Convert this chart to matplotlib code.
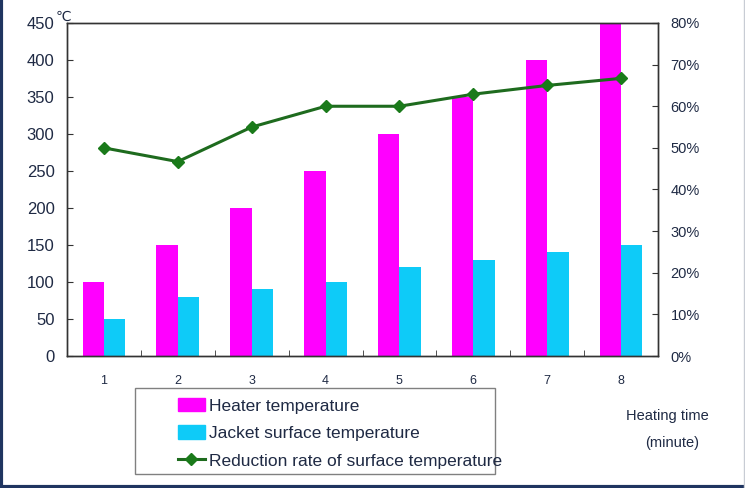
import matplotlib
matplotlib.use('Agg')
import matplotlib.pyplot as plt
import numpy as np
from matplotlib.patches import Rectangle, Patch
from matplotlib.lines import Line2D
from matplotlib.ticker import FuncFormatter, MultipleLocator

plt.rcParams['font.family'] = ['Liberation Sans', 'DejaVu Sans']

# data
minutes = ['1', '2', '3', '4', '5', '6', '7', '8']
heater = [100, 150, 200, 250, 300, 350, 400, 450]
jacket = [50, 80, 90, 100, 120, 130, 140, 150]
reduction = [50.0, 46.7, 55.0, 60.0, 60.0, 62.9, 65.0, 66.7]   # %

c_heater = '#FF00FF'
c_jacket = '#0ECBF8'
c_line = '#1E6B1E'
c_text = '#1F2A44'

fig = plt.figure(figsize=(7.45, 4.88), dpi=100)
ax = fig.add_axes([67/745, 1-356/488, (658-67)/745, (356-23)/488])

x = np.arange(len(minutes))
w = 0.29
ax.bar(x - w/2, heater, w, color=c_heater, label='Heater temperature')
ax.bar(x + w/2, jacket, w, color=c_jacket, label='Jacket surface temperature')

ax.set_xlim(-0.5, len(minutes) - 0.5)
ax.set_ylim(0, 450)
ax.yaxis.set_major_locator(MultipleLocator(50))
ax.set_xticks(x, minutes)
ax.set_xticks(np.arange(0.5, len(minutes) - 1, 1), minor=True)
ax.tick_params(axis='x', which='major', length=0, pad=14, labelsize=9, labelcolor=c_text)
ax.tick_params(axis='x', which='minor', direction='in', length=4, color='#333333')
ax.tick_params(axis='y', direction='in', length=4, pad=9, labelsize=12, labelcolor=c_text, color='#333333')
for s in ax.spines.values():
    s.set_color('#333333')
    s.set_linewidth(1.0)

# secondary axis
ax2 = ax.twinx()
ax2.plot(x, reduction, color=c_line, lw=2.2, marker='D', ms=6,
         mfc='#1A7A1A', mec='#1A7A1A', label='Reduction rate of surface temperature')
ax2.set_ylim(0, 80)
ax2.yaxis.set_major_locator(MultipleLocator(10))
ax2.yaxis.set_major_formatter(FuncFormatter(lambda v, p: f'{v:.0f}%'))
ax2.tick_params(axis='y', direction='in', length=4, pad=9, labelsize=10.5, labelcolor=c_text, color='#333333')
for s in ax2.spines.values():
    s.set_color('#333333')
    s.set_linewidth(1.0)

# unit mark
fig.text(63/745, 1-17/488, '\u2103', fontsize=10, color=c_text, ha='center', va='center')

# legend box
fig.patches.append(Rectangle((135/745, 1-474/488), 360/745, 86/488, transform=fig.transFigure,
                             fill=False, edgecolor='#808080', lw=1.0))
handles = [Patch(color=c_heater), Patch(color=c_jacket),
           Line2D([], [], color=c_line, lw=2.2, marker='D', ms=6, mfc='#1A7A1A', mec='#1A7A1A')]
labels = ['Heater temperature', 'Jacket surface temperature', 'Reduction rate of surface temperature']
fig.legend(handles, labels, loc='upper left', bbox_to_anchor=(178/745, 1-398/488),
           frameon=False, handlelength=1.55, handleheight=0.8, handletextpad=0.25,
           labelspacing=0.68, borderpad=0, borderaxespad=0, labelcolor=c_text,
           prop={'family': ['Liberation Sans'], 'size': 12.5})

# axis title
fig.text(667/745, 1-416/488, 'Heating time', fontsize=10.5, color=c_text, ha='center', va='center')
fig.text(672/745, 1-443/488, '(minute)', fontsize=10.5, color=c_text, ha='center', va='center')

# outer frame
fig.add_artist(Line2D([0.002, 0.002], [0, 1], transform=fig.transFigure, color='#1F3560', lw=3))
fig.add_artist(Line2D([0, 1], [0.003, 0.003], transform=fig.transFigure, color='#1F3560', lw=3))
fig.add_artist(Line2D([0.999, 0.999], [0, 1], transform=fig.transFigure, color='#C8CCD4', lw=1))

fig.savefig('out.png', dpi=100)
